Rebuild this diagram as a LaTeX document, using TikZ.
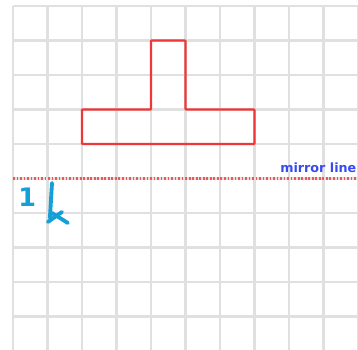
\documentclass[tikz,border=0pt]{standalone}
\usepackage{fontspec}
\usepackage{tikz}
\newfontfamily\labelfont{DejaVu Sans}
\definecolor{gridgray}{RGB}{224,224,224}
\definecolor{shapered}{RGB}{240,55,55}
\definecolor{mirrorblue}{RGB}{55,75,240}
\definecolor{penblue}{RGB}{20,160,215}
\tikzset{
	gridline/.style={gridgray, line width=2pt},
	shapeline/.style={shapered, line width=2pt, rounded corners=0.6pt},
	mirrordots/.style={shapered!85, line width=2.2pt, dash pattern=on 1.4pt off 1.5pt},
	penstroke/.style={penblue, line width=3.2pt, line cap=round}
}

\begin{document}
\begin{tikzpicture}[scale=1]
		\useasboundingbox (-0.377,0.029) rectangle (10,10.174);
		% Draw the squared grid
		\foreach \x in {0,...,10}
			\draw [gridline] (\x,0) -- (\x,10);
		\foreach \y in {0,...,10}
			\draw [gridline] (0,\y) -- (10,\y);
		
		% Draw the red shape
		\draw [shapeline] (2,6) -- (7,6) -- (7,7) -- (5,7) -- (5,9) -- (4,9) -- (4,7) -- (2,7) -- cycle;
		
		% Draw the mirror line
		\coordinate (mleft) at (0,5);
		\coordinate (mright) at (10,5);
		\draw [mirrordots] (mleft) -- (mright);
		\node (mlabel) [anchor=base east, inner sep=0pt, text=mirrorblue, font=\labelfont\bfseries\fontsize{10.5}{12}\selectfont] at (9.96,5.16) {mirror line};
		
		% Handwritten note
		\node (hnum) [inner sep=0pt, text=penblue, font=\labelfont\bfseries\fontsize{21}{22}\selectfont] at (0.41,4.46) {1};
		\coordinate (ptop) at (1.13,4.87);
		\coordinate (pbot) at (1.07,3.86);
		\draw [penstroke] (ptop) -- (pbot);
		\draw [penstroke] (1.01,3.74) -- (1.42,4.03);
		\draw [penstroke] (1.13,4.0) -- (1.59,3.71);
	\end{tikzpicture}
\end{document}
